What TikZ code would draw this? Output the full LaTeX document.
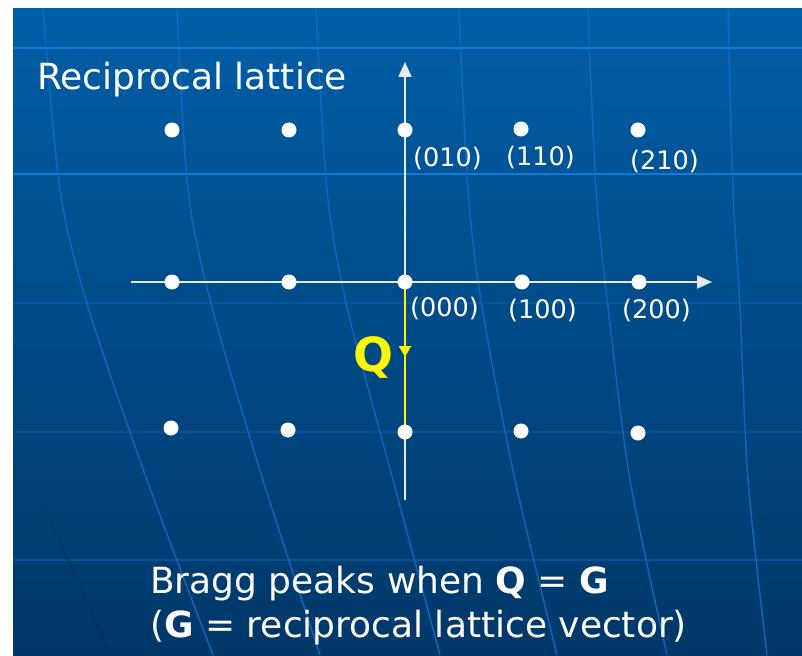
\documentclass[tikz,border=0pt]{standalone}
\usepackage{fontspec}
\setmainfont{DejaVu Sans}
\usetikzlibrary{calc,arrows.meta}
\definecolor{bgtop}{RGB}{0,94,166}
\definecolor{bgbot}{RGB}{0,55,104}
\definecolor{gridhi}{RGB}{12,122,214}
\definecolor{gridlo}{RGB}{14,96,180}
\definecolor{meridian}{RGB}{18,108,198}
\definecolor{axiscol}{RGB}{228,234,242}
\definecolor{qyel}{RGB}{250,248,0}

\begin{document}
\begin{tikzpicture}[>={Triangle[length=15pt,width=13pt]},x=1pt,y=-1pt,inner sep=0pt,
  dot/.style={circle,fill=white,minimum size=15pt},
  hkl/.style={anchor=west,text=white,font=\fontsize{25.5}{30}\selectfont},
  note/.style={anchor=base west,text=white,font=\fontsize{36}{42}\selectfont},
  axisline/.style={draw=axiscol,line width=2.2pt},
  qline/.style={draw=qyel,line width=2pt}]
\useasboundingbox (0,0) rectangle (802,655);
\fill[white] (0,0) rectangle (802,655);
\shade[top color=bgtop,bottom color=bgbot] (13,9) rectangle (802,655);

%% background: faint grid of the slide
\draw[gridhi,line width=2pt] (13,48)--(802,48);
\draw[gridhi,line width=2pt] (13,174)--(802,174);
\draw[gridlo,opacity=.45,line width=1.5pt] (13,303)--(802,303);
\draw[gridlo,opacity=.45,line width=1.5pt] (13,432)--(802,432);
\draw[gridlo,opacity=.55,line width=1.5pt] (13,560)--(802,560);
\draw[meridian,opacity=.85,line width=1.5pt] plot[smooth] coordinates {(43,9) (60,190) (88,307) (147,480) (213,655)};
\draw[meridian,opacity=.85,line width=1.5pt] plot[smooth] coordinates {(177,9) (188,190) (212,307) (263,480) (320,655)};
\draw[meridian,opacity=.85,line width=1.5pt] plot[smooth] coordinates {(316,9) (327,190) (347,307) (393,480) (440,655)};
\draw[meridian,opacity=.85,line width=1.5pt] plot[smooth] coordinates {(459,9) (468,190) (482,307) (515,480) (557,655)};
\draw[meridian,opacity=.85,line width=1.5pt] plot[smooth] coordinates {(588,9) (596,190) (608,307) (630,480) (667,655)};
\draw[meridian,opacity=.85,line width=1.5pt] plot[smooth] coordinates {(728,9) (733,190) (740,307) (748,480) (767,655)};
\draw[bgbot!75!black,opacity=.5,line width=1.2pt] plot[smooth] coordinates {(43,505) (75,575) (110,655)};

%% axes
\coordinate (xl) at (131,282);
\coordinate (xr) at (712,282);
\coordinate (yb) at (405,500);
\coordinate (yt) at (405,62);
\draw[axisline,->] (xl)--(xr);
\draw[axisline,->] (yb)--(yt);

%% reciprocal lattice points, "n" = negative index
\node[dot] (Gn21) at (172,130) {};
\node[dot] (Gn11) at (289,130) {};
\node[dot] (G01) at (405,130) {};
\node[dot] (G11) at (521,129) {};
\node[dot] (G21) at (638,130) {};
\node[dot] (Gn20) at (172,282) {};
\node[dot] (Gn10) at (289,282) {};
\node[dot] (G00) at (405,282) {};
\node[dot] (G10) at (522,282) {};
\node[dot] (G20) at (639,282) {};
\node[dot] (Gn2n1) at (171,428) {};
\node[dot] (Gn1n1) at (288,430) {};
\node[dot] (G0n1) at (405,432) {};
\node[dot] (G1n1) at (521,431) {};
\node[dot] (G2n1) at (638,433) {};

\node[hkl] (L01) at ($(G01)+(8,29)$) {(010)};
\node[hkl] (L11) at ($(G11)+(-15,29)$) {(110)};
\node[hkl] (L21) at ($(G21)+(-8,32)$) {(210)};
\node[hkl] (L00) at ($(G00)+(5,27)$) {(000)};
\node[hkl] (L10) at ($(G10)+(-14,29)$) {(100)};
\node[hkl] (L20) at ($(G20)+(-17,29)$) {(200)};

%% scattering vector Q
\draw[qline] (G00)--(G0n1);
\draw[qline,-{Triangle[length=11pt,width=12pt]}] (G00)--($(G00)!0.5!(G0n1)$);
\node[text=qyel,font=\fontsize{47}{50}\selectfont\bfseries] (Q) at (373,357) {Q};

\node[anchor=base west,text=white,font=\fontsize{36}{40}\selectfont] (title) at (37,90) {Reciprocal lattice};
\node[note] (bragg) at (150,593) {Bragg peaks when \textbf{Q} = \textbf{G}};
\node[note] (gdef) at (150,637) {(\textbf{G} = reciprocal lattice vector)};
\end{tikzpicture}
\end{document}
